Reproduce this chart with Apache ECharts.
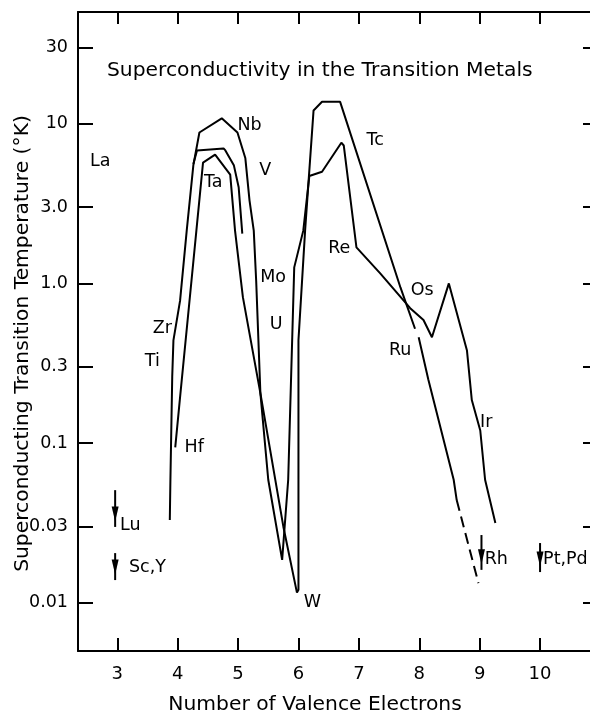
<!DOCTYPE html>
<html>
<head>
<meta charset="utf-8">
<script src="https://cdn.jsdelivr.net/npm/echarts@6/dist/echarts.min.js"></script>
<style>
  html, body { margin: 0; padding: 0; background: #fff; }
  #chart { width: 590px; height: 713px; }
</style>
</head>
<body>
<div id="chart"></div>
<script>
// Each curve: [number of valence electrons, transition temperature in K]
const curveZrNbTc = [
  [3.87, 0.033], [3.88, 0.059], [3.91, 0.26], [3.93, 0.44], [4.04, 0.78],
  [4.15, 2.14], [4.26, 5.5], [4.36, 8.8], [4.73, 10.8], [4.99, 8.8],
  [5.12, 6.1], [5.19, 3.3], [5.26, 2.14], [5.30, 1.04], [5.37, 0.205],
  [5.75, 0.030], [5.975, 0.0116], [6.0, 0.0121], [6.0, 0.44], [6.11, 2.14],
  [6.25, 12.1], [6.39, 13.7], [6.69, 13.7], [7.69, 0.94], [7.93, 0.52]
];
const curveRu = [[7.99, 0.46], [8.15, 0.25], [8.57, 0.059], [8.62, 0.044]];
const curveRuExtrapolated = [[8.62, 0.044], [8.98, 0.0133]];
const curveV = [
  [4.26, 5.6], [4.32, 6.8], [4.76, 7.0], [4.79, 6.8], [4.93, 5.5],
  [5.01, 4.0], [5.07, 2.05]
];
const curveHfTaRe = [
  [3.96, 0.094], [4.04, 0.194], [4.31, 2.14], [4.42, 5.7], [4.62, 6.4],
  [4.87, 4.8], [4.95, 2.14], [5.08, 0.82], [5.37, 0.205], [5.50, 0.059],
  [5.73, 0.0186], [5.83, 0.059], [5.93, 1.26], [6.08, 2.14], [6.18, 4.7],
  [6.39, 5.0], [6.71, 7.6], [6.75, 7.3], [6.96, 1.68], [7.35, 1.16],
  [7.85, 0.70], [8.07, 0.59], [8.21, 0.46], [8.49, 1.0], [8.79, 0.38],
  [8.87, 0.186], [9.01, 0.12], [9.09, 0.059], [9.26, 0.0316]
];

// Upper limits (no transition found above): [electrons, arrow top, arrow bottom]
const upperLimits = [
  [2.965, 0.0508, 0.0299],
  [2.965, 0.0205, 0.0139],
  [9.03, 0.0266, 0.0161],
  [10.0, 0.0237, 0.0156]
];

// Element names placed beside the curves: [electrons, temperature, name]
const elementLabels = [
  [5.19, 9.7, 'Nb'], [5.45, 5.1, 'V'], [4.59, 4.3, 'Ta'], [5.58, 1.09, 'Mo'],
  [5.63, 0.55, 'U'], [3.745, 0.52, 'Zr'], [3.58, 0.325, 'Ti'], [4.275, 0.094, 'Hf'],
  [3.215, 0.0307, 'Lu'], [3.50, 0.0166, 'Sc,Y'], [6.23, 0.010, 'W'],
  [9.275, 0.0186, 'Rh'], [7.27, 7.8, 'Tc'], [6.675, 1.65, 'Re'], [8.05, 0.90, 'Os'],
  [7.685, 0.38, 'Ru'], [9.11, 0.135, 'Ir'], [2.72, 5.8, 'La']
];
const sideLabels = [[10.05, 0.0186, 'Pt,Pd']];

const xTicks = [3, 4, 5, 6, 7, 8, 9, 10];
const yTicks = [0.01, 0.03, 0.1, 0.3, 1, 3, 10, 30];
const yTickText = ['0.01', '0.03', '0.1', '0.3', '1.0', '3.0', '10', '30'];

const FONT = 'DejaVu Sans';
const INK = '#000';

function yText(v) {
  const i = yTicks.findIndex(t => Math.abs(t - v) / t < 1e-6);
  return i >= 0 ? yTickText[i] : '';
}

function curve(data, dashed) {
  return {
    type: 'line', data: data, showSymbol: false, symbol: 'none',
    lineStyle: { color: INK, width: 2, type: dashed ? [11, 6] : 'solid' },
    silent: true, z: 3
  };
}

const series = [
  curve(curveZrNbTc), curve(curveRu), curve(curveRuExtrapolated, true),
  curve(curveV), curve(curveHfTaRe)
];

// Arrow shafts and heads for the upper limits
upperLimits.forEach(a => {
  series.push(curve([[a[0], a[1]], [a[0], a[2]]]));
});
series.push({
  type: 'scatter', symbol: 'triangle', symbolSize: [7, 15], symbolRotate: 180,
  symbolOffset: [0, -13], itemStyle: { color: INK, opacity: 1 }, silent: true, z: 4,
  data: upperLimits.map(a => [a[0], a[2]])
});

const labelStyle = { show: true, formatter: '{b}', color: INK, opacity: 1,
                     fontFamily: FONT, fontSize: 17.5 };
series.push({
  type: 'scatter', symbolSize: 0, silent: true, z: 5,
  itemStyle: { opacity: 1 },
  data: elementLabels.map(l => ({ value: [l[0], l[1]], name: l[2] })),
  label: Object.assign({ position: 'inside' }, labelStyle)
});
series.push({
  type: 'scatter', symbolSize: 0, silent: true, z: 5,
  itemStyle: { opacity: 1 },
  data: sideLabels.map(l => ({ value: [l[0], l[1]], name: l[2] })),
  label: Object.assign({ position: 'right', distance: 0 }, labelStyle)
});

const axisLine = { show: true, lineStyle: { color: INK, width: 2 } };

const option = {
  animation: false,
  backgroundColor: '#fff',
  title: {
    text: 'Superconductivity in the Transition Metals',
    left: 107, top: 61, padding: 0,
    textStyle: { fontFamily: FONT, fontSize: 20.3, fontWeight: 'normal', color: INK }
  },
  grid: { left: 78, right: -2, top: 12, bottom: 62, outerBoundsMode: 'none', containLabel: false },
  xAxis: [{
    type: 'value', min: 2.35, max: 10.86, position: 'bottom',
    name: 'Number of Valence Electrons', nameLocation: 'middle', nameGap: 44,
    nameMoveOverlap: false,
    nameTextStyle: { fontFamily: FONT, fontSize: 20.3, color: INK, padding: [0, 40, 0, 0] },
    axisLine: axisLine,
    axisTick: { show: true, inside: true, length: 13, customValues: xTicks,
                lineStyle: { color: INK, width: 2 } },
    axisLabel: { show: true, customValues: xTicks, margin: 14, color: INK,
                 fontFamily: FONT, fontSize: 18 },
    splitLine: { show: false }
  }, {
    type: 'value', min: 2.35, max: 10.86, position: 'top',
    axisLine: axisLine,
    axisTick: { show: true, inside: true, length: 12, customValues: xTicks,
                lineStyle: { color: INK, width: 2 } },
    axisLabel: { show: false },
    splitLine: { show: false }
  }],
  yAxis: [{
    type: 'log', logBase: 10, min: 0.005, max: 50, position: 'left',
    name: 'Superconducting Transition Temperature (°K)', nameLocation: 'middle', nameGap: 45,
    nameMoveOverlap: false,
    nameTextStyle: { fontFamily: FONT, fontSize: 20.3, color: INK, padding: [0, 24, 0, 0] },
    axisLine: axisLine,
    axisTick: { show: true, inside: true, length: 15, customValues: yTicks,
                lineStyle: { color: INK, width: 2 } },
    axisLabel: { show: true, customValues: yTicks, margin: 10, color: INK,
                 fontFamily: FONT, fontSize: 17.5, formatter: yText },
    splitLine: { show: false }
  }, {
    type: 'log', logBase: 10, min: 0.005, max: 50, position: 'right',
    axisLine: axisLine,
    axisTick: { show: true, inside: true, length: 9, customValues: yTicks,
                lineStyle: { color: INK, width: 2 } },
    axisLabel: { show: false },
    splitLine: { show: false }
  }],
  series: series
};

const chart = echarts.init(document.getElementById('chart'), null, { renderer: 'canvas' });
chart.setOption(option);
</script>
</body>
</html>
